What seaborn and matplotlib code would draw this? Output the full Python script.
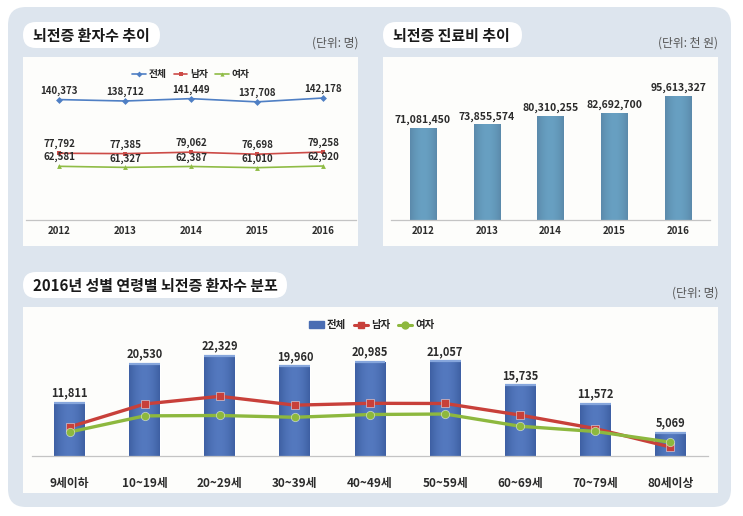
import matplotlib.pyplot as plt
from matplotlib.patches import FancyBboxPatch, Patch
from matplotlib.lines import Line2D
import numpy as np
import pandas as pd
import seaborn as sns

# %% data
years = ['2012', '2013', '2014', '2015', '2016']
total_patients = [140373, 138712, 141449, 137708, 142178]
male_patients = [77792, 77385, 79062, 76698, 79258]
female_patients = [62581, 61327, 62387, 61010, 62920]
costs = [71081450, 73855574, 80310255, 82692700, 95613327]

age_groups = ['9세이하', '10~19세', '20~29세', '30~39세', '40~49세',
              '50~59세', '60~69세', '70~79세', '80세이상']
age_total = [11811, 20530, 22329, 19960, 20985, 21057, 15735, 11572, 5069]
age_male = [6470, 11590, 13300, 11330, 11740, 11700, 9110, 6110, 1995]
age_female = [5340, 8940, 9030, 8630, 9245, 9357, 6625, 5462, 3074]

series_names = ['전체', '남자', '여자']

# %% style
sns.set_style('white')
plt.rcParams['font.family'] = ['Noto Sans CJK KR', 'DejaVu Sans']
plt.rcParams['axes.unicode_minus'] = False

W, H = 743, 516
fig = plt.figure(figsize=(W / 100, H / 100), dpi=100)
fig.patch.set_facecolor('white')

PANEL = '#dde5ee'
LABEL = '#2b2b2b'


def box(x0, y0, x1, y1, color, r=0):
    p = FancyBboxPatch((x0 / 100, (H - y1) / 100), (x1 - x0) / 100, (y1 - y0) / 100,
                       boxstyle=f'round,pad=0,rounding_size={r / 100}',
                       transform=fig.dpi_scale_trans, fc=color, ec='none', zorder=0)
    fig.add_artist(p)


def axes_px(x0, y0, x1, y1):
    ax = fig.add_axes([x0 / W, 1 - y1 / H, (x1 - x0) / W, (y1 - y0) / H])
    ax.set_facecolor('none')
    return ax


def ftext(x, y, s, **kw):
    fig.text(x / W, 1 - y / H, s, **kw)


def style_axis(ax, n, labels, pad, fs):
    for s in ['top', 'left', 'right']:
        ax.spines[s].set_visible(False)
    ax.spines['bottom'].set_color('#c4c4c4')
    ax.spines['bottom'].set_linewidth(0.9)
    ax.set_xlim(-0.5, n - 0.5)
    ax.set_yticks([])
    ax.set_xticks(range(n))
    ax.set_xticklabels(labels, fontsize=fs, fontweight='bold', color=LABEL)
    ax.set_xticks(np.arange(n + 1) - 0.5, minor=True)
    ax.tick_params(axis='x', which='major', length=0, pad=pad)
    ax.tick_params(axis='x', which='minor', length=4, color='#c4c4c4', width=0.8)
    ax.set_xlabel('')
    ax.set_ylabel('')


def gradient_bars(ax, edge, mid, top=None):
    c_edge = np.array(plt.matplotlib.colors.to_rgb(edge))
    c_mid = np.array(plt.matplotlib.colors.to_rgb(mid))
    t = np.abs(np.linspace(-1, 1, 64)) ** 1.8
    row = c_mid[None, :] * (1 - t[:, None]) + c_edge[None, :] * t[:, None]
    img = np.repeat(row[None, :, :], 2, axis=0)
    for p in list(ax.patches):
        x, y = p.get_x(), p.get_y()
        w, h = p.get_width(), p.get_height()
        im = ax.imshow(img, extent=(x, x + w, y, y + h), aspect='auto',
                       zorder=p.get_zorder() + 0.1, interpolation='bilinear')
        im.set_clip_path(p)
        if top is not None:
            ax.plot([x, x + w], [y + h, y + h], color=top, lw=1.6,
                    zorder=p.get_zorder() + 0.2, solid_capstyle='butt')


# %% background panel, white plot areas and title pills
box(8, 7, 731, 507, PANEL, 18)
box(23, 57, 358, 246, '#fdfdfb')
box(383, 57, 718, 246, '#fdfdfb')
box(23, 307, 718, 493, '#fdfdfb')
box(23, 22, 160, 48, 'white', 13)
box(383, 22, 522, 48, 'white', 13)
box(23, 272, 287, 298, 'white', 13)

title_kw = dict(fontsize=10.8, va='center', color='#1a1a1a', fontweight='bold')
ftext(33, 35.5, '뇌전증 환자수 추이', **title_kw)
ftext(393, 35.5, '뇌전증 진료비 추이', **title_kw)
ftext(33, 285.5, '2016년 성별 연령별 뇌전증 환자수 분포', **title_kw)
ftext(358, 43, '(단위: 명)', fontsize=8.5, va='center', ha='right', color='#555555')
ftext(718, 43, '(단위: 천 원)', fontsize=8.5, va='center', ha='right', color='#555555')
ftext(718, 293, '(단위: 명)', fontsize=8.5, va='center', ha='right', color='#555555')

# %% top-left: patients trend
line_colors = {'전체': '#4f7fc4', '남자': '#cc4b47', '여자': '#8fbc45'}
line_markers = {'전체': 'D', '남자': 's', '여자': '^'}
df_trend = pd.DataFrame({
    'year': years * 3,
    'value': total_patients + male_patients + female_patients,
    'series': [s for s in series_names for _ in years],
})
ax1 = axes_px(26, 57, 356, 220)
sns.lineplot(data=df_trend, x='year', y='value', hue='series', style='series',
             palette=line_colors, markers=line_markers, dashes=False, sort=False,
             markersize=3.5, linewidth=1.2, markeredgewidth=0, legend=False, ax=ax1)
ax1.set_ylim(0, 190000)
style_axis(ax1, len(years), years, 4, 7)
for vals in [total_patients, male_patients, female_patients]:
    for i, v in enumerate(vals):
        ax1.annotate(f'{v:,}', (i, v), xytext=(0, 6.5), textcoords='offset points',
                     ha='center', va='center', fontsize=7, fontweight='bold', color=LABEL)
h1 = [Line2D([], [], color=line_colors[s], marker=line_markers[s], markersize=3,
             markeredgewidth=0, lw=1.2) for s in series_names]
fig.legend(h1, series_names, loc='center', bbox_to_anchor=(191 / W, 1 - 74 / H), ncol=3,
           frameon=False, handlelength=1.4, handletextpad=0.3, columnspacing=0.7,
           prop={'weight': 'bold', 'size': 7})

# %% top-right: medical costs
ax2 = axes_px(391, 57, 710, 220)
sns.barplot(x=years, y=costs, color='#6497b8', width=0.41, saturation=1, ax=ax2)
gradient_bars(ax2, '#5b8aab', '#68a0c2')
ax2.set_ylim(0, 125.4e6)
style_axis(ax2, len(years), years, 4.5, 7)
for i, v in enumerate(costs):
    ax2.annotate(f'{v:,}', (i, v), xytext=(0, 5.5), textcoords='offset points',
                 ha='center', va='center', fontsize=7.5, fontweight='bold', color=LABEL)

# %% bottom: 2016 by age and sex
ax3 = axes_px(32, 307, 708, 456)
sns.barplot(x=age_groups, y=age_total, color='#4a6db3', width=0.41, saturation=1, ax=ax3)
gradient_bars(ax3, '#3e60a3', '#5479bf', top='#86a6dc')
df_age = pd.DataFrame({
    'age': age_groups * 2,
    'value': age_male + age_female,
    'sex': ['남자'] * len(age_groups) + ['여자'] * len(age_groups),
})
sex_colors = {'남자': '#c8403a', '여자': '#8db83e'}
sns.pointplot(data=df_age, x='age', y='value', hue='sex', palette=sex_colors,
              markers=['s', 'o'], linestyles=['-', '-'], dodge=False, errorbar=None,
              markersize=6, linewidth=2.4, markeredgewidth=0.6, markeredgecolor='#ffffff88',
              legend=False, ax=ax3)
ax3.set_ylim(0, 33200)
style_axis(ax3, len(age_groups), age_groups, 15, 8.5)
for i, v in enumerate(age_total):
    ax3.annotate(f'{v:,}', (i, v), xytext=(0, 7.2), textcoords='offset points',
                 ha='center', va='center', fontsize=8, fontweight='bold', color=LABEL)
h3 = [Patch(color='#4a6db3'),
      Line2D([], [], color=sex_colors['남자'], marker='s', markersize=5, lw=2.2),
      Line2D([], [], color=sex_colors['여자'], marker='o', markersize=5, lw=2.2)]
fig.legend(h3, series_names, loc='center', bbox_to_anchor=(372 / W, 1 - 325 / H), ncol=3,
           frameon=False, handlelength=1.4, handleheight=0.6, handletextpad=0.3,
           columnspacing=0.7, prop={'weight': 'bold', 'size': 7.5})

fig.savefig('out.png', dpi=100)
